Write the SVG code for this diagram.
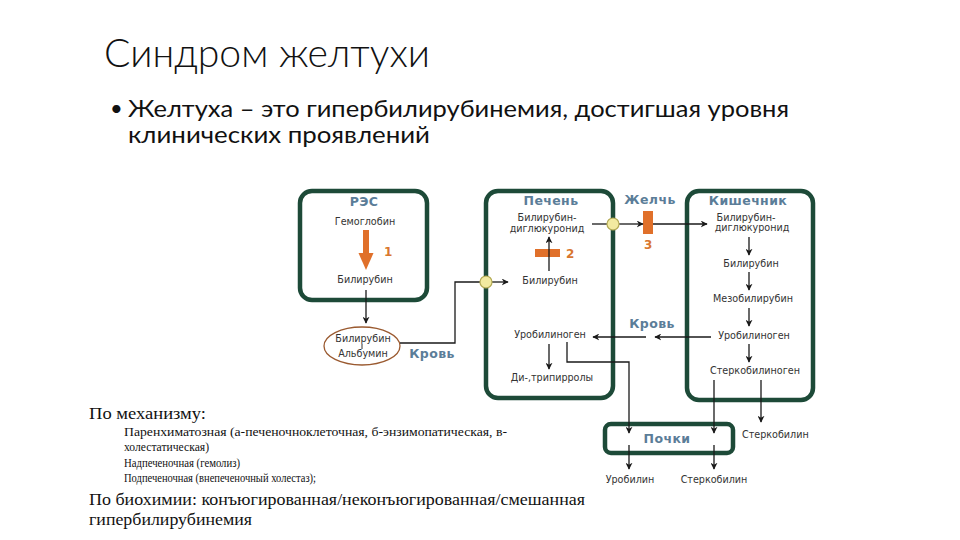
<svg xmlns="http://www.w3.org/2000/svg" width="960" height="540" viewBox="0 0 960 540">
<style>
.title{font-family:Lato,"Open Sans","Liberation Sans",sans-serif;fill:#111;}
.box{fill:#fff;stroke:#1d4a38;stroke-width:4.5;}
.lbl{font-family:"DejaVu Sans",Verdana,sans-serif;font-weight:bold;fill:#5b7d98;font-size:12.5px;letter-spacing:0.4px;text-anchor:middle;}
.t{font-family:"DejaVu Sans",Verdana,sans-serif;fill:#333;font-size:9.6px;text-anchor:middle;}
.num{font-family:"DejaVu Sans",Verdana,sans-serif;font-weight:bold;fill:#d9772f;font-size:12px;}
.ln{fill:none;stroke:#1a1a1a;stroke-width:1.3;}
.ar{fill:none;stroke:#1a1a1a;stroke-width:1.3;marker-end:url(#ah);}
.dot{fill:#f2eaa0;stroke:#b4ab55;stroke-width:1.2;}
.org{fill:#e0702a;}
.tn{font-family:"Liberation Serif","Times New Roman",serif;fill:#111;}
</style>
<defs>
<marker id="ah" viewBox="0 0 10 10" refX="9" refY="5" markerWidth="7" markerHeight="7" markerUnits="userSpaceOnUse" orient="auto">
<path d="M0,0 L10,5 L0,10 L3,5 Z" fill="#1a1a1a"/>
</marker>
</defs>
<rect width="960" height="540" fill="#fff"/>

<g id="title">
<text class="title" x="104" y="67" font-size="40" font-weight="300" textLength="326" lengthAdjust="spacingAndGlyphs">Синдром желтухи</text>
<text class="title" x="110" y="116" font-size="22">•</text>
<text class="title" x="128" y="117" font-size="23" textLength="661" lengthAdjust="spacingAndGlyphs">Желтуха – это гипербилирубинемия, достигшая уровня</text>
<text class="title" x="128" y="143" font-size="23" textLength="302" lengthAdjust="spacingAndGlyphs">клинических проявлений</text>
</g>

<g id="res">
<rect class="box" x="300" y="191" width="127" height="109" rx="12"/>
<text class="lbl" x="364" y="206">РЭС</text>
<text class="t" x="365" y="225">Гемоглобин</text>
<rect class="org" x="363" y="230" width="6" height="24"/>
<path class="org" d="M358.5,253 L373.5,253 L366,270 Z"/>
<text class="num" x="384" y="256">1</text>
<text class="t" x="365" y="283">Билирубин</text>
</g>

<g id="albumin">
<ellipse cx="362" cy="346" rx="38" ry="19" fill="#fff" stroke="#9a5a30" stroke-width="1.3"/>
<text class="t" x="363" y="342">Билирубин</text>
<line x1="362" y1="344" x2="362" y2="349" stroke="#333" stroke-width="1"/>
<text class="t" x="363" y="357">Альбумин</text>
<text class="lbl" x="432" y="358">Кровь</text>
</g>

<g id="liver">
<rect class="box" x="486" y="191" width="127" height="207" rx="12"/>
<text class="lbl" x="551" y="205">Печень</text>
<text class="t" x="547" y="221">Билирубин-</text>
<text class="t" x="547" y="232">диглюкуронид</text>
<rect class="org" x="535" y="249" width="25" height="8"/>
<text class="num" x="566" y="258">2</text>
<text class="t" x="550" y="284">Билирубин</text>
<text class="t" x="550" y="338">Уробилиноген</text>
<text class="t" x="552" y="381">Ди-,трипирролы</text>
</g>

<g id="bile">
<text class="lbl" x="650" y="204">Желчь</text>
<rect class="org" x="643" y="211" width="10" height="23"/>
<text class="num" x="644" y="249">3</text>
<text class="lbl" x="652" y="328">Кровь</text>
</g>

<g id="intestine">
<rect class="box" x="687" y="191" width="126" height="209" rx="12"/>
<text class="lbl" x="748" y="205">Кишечник</text>
<text class="t" x="746" y="221">Билирубин-</text>
<text class="t" x="752" y="231">диглюкуронид</text>
<text class="t" x="751" y="267">Билирубин</text>
<text class="t" x="753" y="302">Мезобилирубин</text>
<text class="t" x="754" y="339">Уробилиноген</text>
<text class="t" x="755" y="374">Стеркобилиноген</text>
</g>

<g id="kidney">
<rect class="box" x="605" y="424" width="128" height="29" rx="6"/>
<text class="lbl" x="667" y="443">Почки</text>
</g>

<g id="outputs">
<text class="t" x="630" y="483">Уробилин</text>
<text class="t" x="714" y="483">Стеркобилин</text>
<text class="t" x="742" y="438" style="text-anchor:start">Стеркобилин</text>
</g>

<g id="connectors">
<line class="ar" x1="366" y1="290" x2="366" y2="323"/>
<polyline class="ln" points="400,343 455,343 455,282 480,282"/>
<line class="ar" x1="492" y1="282" x2="508" y2="282"/>
<line class="ar" x1="549" y1="271" x2="549" y2="237"/>
<line class="ln" x1="592" y1="224" x2="607" y2="224"/>
<line class="ar" x1="619" y1="224" x2="643" y2="224"/>
<line class="ar" x1="653" y1="224" x2="707" y2="224"/>
<line class="ar" x1="749" y1="237" x2="749" y2="255"/>
<line class="ar" x1="749" y1="272" x2="749" y2="290"/>
<line class="ar" x1="749" y1="308" x2="749" y2="326"/>
<line class="ar" x1="749" y1="344" x2="749" y2="362"/>
<line class="ar" x1="711" y1="337" x2="655" y2="337"/>
<line class="ar" x1="646" y1="337" x2="593" y2="337"/>
<line class="ar" x1="549" y1="344" x2="549" y2="369"/>
<polyline class="ar" points="567,342 567,362 629,362 629,433"/>
<line class="ar" x1="629" y1="445" x2="629" y2="469"/>
<line class="ar" x1="714" y1="380" x2="714" y2="433"/>
<line class="ar" x1="714" y1="445" x2="714" y2="469"/>
<line class="ar" x1="761" y1="380" x2="761" y2="422"/>
<circle class="dot" cx="486" cy="282" r="6"/>
<circle class="dot" cx="613" cy="224" r="6"/>
</g>

<g id="notes">
<text class="tn" x="89" y="419" font-size="17" textLength="117" lengthAdjust="spacingAndGlyphs">По механизму:</text>
<text class="tn" x="124" y="436" font-size="12" textLength="383" lengthAdjust="spacingAndGlyphs">Паренхиматозная (а-печеночноклеточная, б-энзимопатическая, в-</text>
<text class="tn" x="124" y="451" font-size="12" textLength="85" lengthAdjust="spacingAndGlyphs">холестатическая)</text>
<text class="tn" x="124" y="467" font-size="12" textLength="116" lengthAdjust="spacingAndGlyphs">Надпеченочная (гемолиз)</text>
<text class="tn" x="124" y="482" font-size="12" textLength="192" lengthAdjust="spacingAndGlyphs">Подпеченочная (внепеченочный холестаз);</text>
<text class="tn" x="89" y="505" font-size="17" textLength="496" lengthAdjust="spacingAndGlyphs">По биохимии: конъюгированная/неконъюгированная/смешанная</text>
<text class="tn" x="89" y="525" font-size="17" textLength="163" lengthAdjust="spacingAndGlyphs">гипербилирубинемия</text>
</g>
</svg>
